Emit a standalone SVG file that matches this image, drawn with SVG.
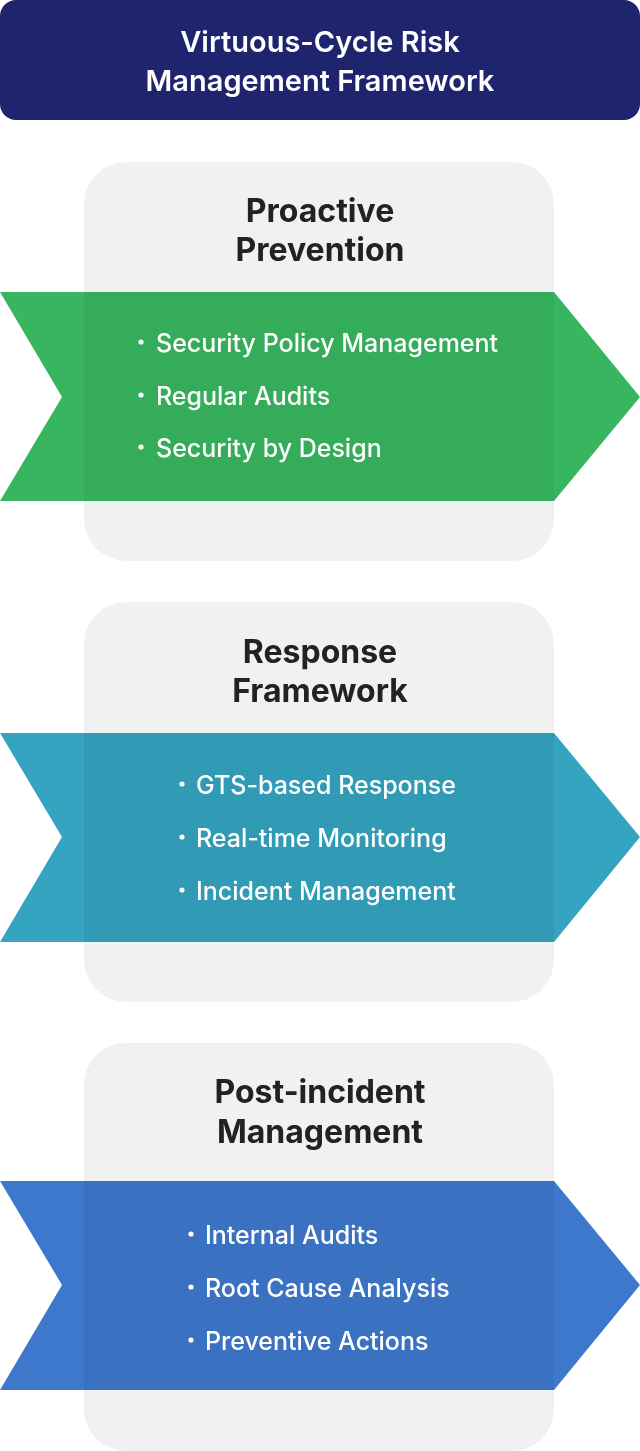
<svg xmlns="http://www.w3.org/2000/svg" width="640" height="1451" viewBox="0 0 640 1451">
<style>
.hdr{fill:#1f246f}
.hdrt{font-family:Inter,"Noto Sans",sans-serif;font-weight:600;font-size:29px;fill:#fff;text-anchor:middle}
.card{fill:#f1f1f1}
.ttl{font-family:Inter,"Noto Sans",sans-serif;font-weight:700;font-size:32px;fill:#222;text-anchor:middle}
.chev{mix-blend-mode:multiply}
.item{font-family:Inter,"Noto Sans",sans-serif;font-weight:500;font-size:25px;fill:#fff}
.dot{fill:#fff}
</style>
<rect width="640" height="1451" fill="#fff"/>
<g id="header">
<rect class="hdr" x="0" y="0" width="640" height="120" rx="16"/>
<text class="hdrt" x="320" y="52">Virtuous-Cycle Risk</text>
<text class="hdrt" x="320" y="91">Management Framework</text>
</g>
<g id="proactive">
<rect class="card" x="84" y="162" width="470" height="399" rx="42"/>
<text class="ttl" x="320" y="222">Proactive</text>
<text class="ttl" x="320" y="261">Prevention</text>
<polygon class="chev" points="0,292 554,292 640,397 554,501 0,501 62,397" fill="#37b65f"/>
<circle class="dot" cx="141" cy="342" r="2.6"/>
<text class="item" x="156" y="352">Security Policy Management</text>
<circle class="dot" cx="141" cy="395" r="2.6"/>
<text class="item" x="156" y="405">Regular Audits</text>
<circle class="dot" cx="141" cy="447" r="2.6"/>
<text class="item" x="156" y="457">Security by Design</text>
</g>
<g id="response">
<rect class="card" x="84" y="602" width="470" height="400" rx="42"/>
<text class="ttl" x="320" y="663">Response</text>
<text class="ttl" x="320" y="702">Framework</text>
<polygon class="chev" points="0,733 554,733 640,837 554,942 0,942 62,837" fill="#34a4c1"/>
<circle class="dot" cx="182" cy="784" r="2.6"/>
<text class="item" x="196" y="794">GTS-based Response</text>
<circle class="dot" cx="182" cy="837" r="2.6"/>
<text class="item" x="196" y="847">Real-time Monitoring</text>
<circle class="dot" cx="182" cy="890" r="2.6"/>
<text class="item" x="196" y="900">Incident Management</text>
</g>
<g id="post-incident">
<rect class="card" x="84" y="1043" width="470" height="408" rx="42"/>
<text class="ttl" x="320" y="1103">Post-incident</text>
<text class="ttl" x="320" y="1143">Management</text>
<polygon class="chev" points="0,1181 554,1181 640,1285 554,1390 0,1390 62,1285" fill="#3e78cc"/>
<circle class="dot" cx="191" cy="1234" r="2.6"/>
<text class="item" x="205" y="1244">Internal Audits</text>
<circle class="dot" cx="191" cy="1287" r="2.6"/>
<text class="item" x="205" y="1297">Root Cause Analysis</text>
<circle class="dot" cx="191" cy="1340" r="2.6"/>
<text class="item" x="205" y="1350">Preventive Actions</text>
</g>
<g id="connectors"></g>
</svg>
